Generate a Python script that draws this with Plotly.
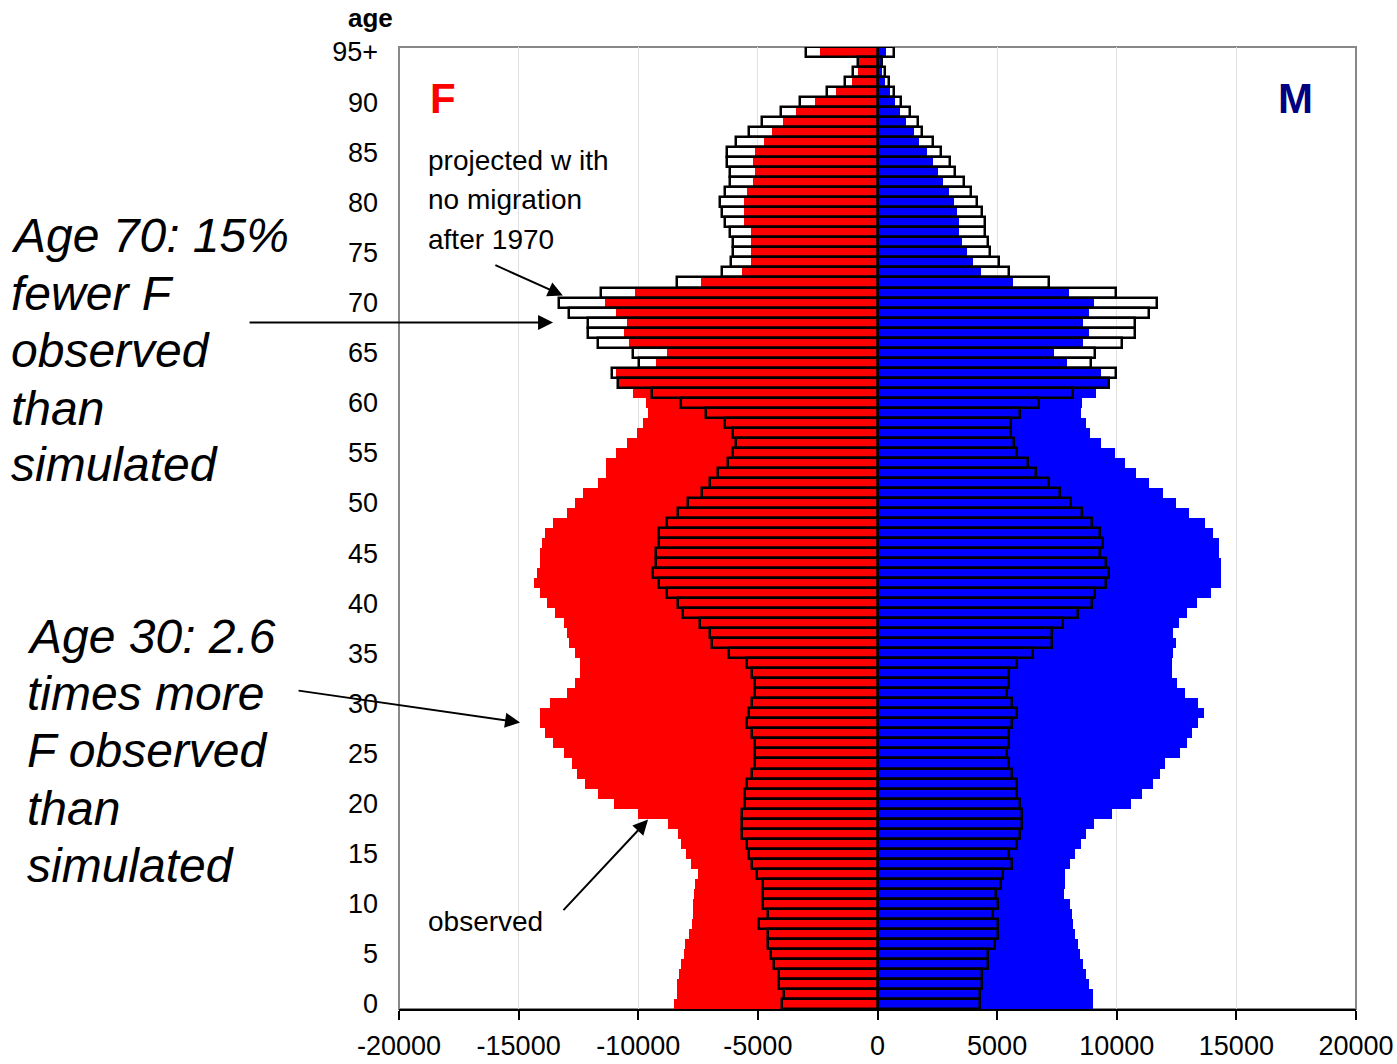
import plotly.graph_objects as go

ages = list(range(96))
age_ticks = list(range(0, 96, 5))
age_labels = [str(a) for a in range(0, 95, 5)] + ["95+"]

x_ticks = list(range(-20000, 20001, 5000))
x_labels = [str(v) for v in x_ticks]  # plain hyphen minus as in the original

# observed population (ages 0..95+)
obs_f = [8520, 8400, 8370, 8310, 8220, 8100, 8030, 7860, 7760, 7730,
         7730, 7650, 7610, 7520, 7800, 7990, 8200, 8330, 8740, 10000,
         11020, 11670, 12220, 12540, 12750, 13100, 13550, 13890, 14120, 14120,
         13670, 12990, 12650, 12430, 12430, 12650, 12880, 12990, 13100, 13480,
         13820, 14120, 14340, 14230, 14120, 14120, 14010, 13890, 13550, 12990,
         12650, 12310, 11670, 11340, 11360, 10920, 10480, 10070, 9790, 9590,
         9690, 10240, 10900, 10920, 9240, 8780, 10370, 10580, 10460, 10920,
         11380, 10130, 7360, 5650, 5300, 5300, 5300, 5300, 5560, 5560,
         5560, 5440, 5200, 5100, 5200, 5100, 4760, 4430, 3970, 3420,
         2600, 1750, 1060, 820, 800, 2400]

obs_m = [9000, 9000, 8820, 8700, 8570, 8480, 8400, 8250, 8160, 8140,
         8030, 7800, 7840, 7840, 8030, 8250, 8500, 8700, 9040, 9810,
         10580, 11040, 11510, 11810, 12030, 12630, 12950, 13160, 13390, 13630,
         13390, 12840, 12500, 12300, 12300, 12370, 12480, 12340, 12600, 12920,
         13360, 13930, 14350, 14350, 14350, 14270, 14270, 14030, 13680, 13040,
         12490, 11930, 11350, 10800, 10360, 9910, 9360, 8900, 8700, 8510,
         8560, 9140, 9620, 9360, 7910, 7360, 8580, 8830, 8580, 8830,
         9040, 8010, 5680, 4330, 4000, 3750, 3540, 3400, 3400, 3320,
         3180, 2980, 2740, 2530, 2330, 2050, 1750, 1510, 1200, 960,
         720, 515, 310, 205, 150, 370]

# projected with no migration after 1970
proj_f = [4000, 3890, 4120, 4120, 4340, 4460, 4570, 4570, 4940, 4570,
          4790, 4790, 4790, 5020, 5230, 5360, 5470, 5660, 5660, 5660,
          5550, 5550, 5470, 5230, 5130, 5130, 5130, 5230, 5470, 5360,
          5230, 5130, 5130, 5230, 5470, 6220, 6900, 7010, 7440, 8140,
          8350, 8800, 9140, 9380, 9270, 9270, 9140, 9140, 8800, 8330,
          7910, 7350, 7010, 6670, 6240, 6040, 5920, 6040, 6390, 7160,
          8220, 9420, 10850, 11090, 9960, 10200, 11680, 12120, 12090, 12910,
          13320, 11540, 8400, 6510, 6130, 6040, 6040, 6160, 6390, 6510,
          6590, 6390, 6160, 6160, 6270, 6270, 5920, 5380, 4830, 4040,
          3250, 2120, 1340, 1030, 820, 3000]

proj_m = [4270, 4270, 4380, 4380, 4610, 4610, 4930, 5020, 5020, 4830,
          5020, 4960, 5150, 5260, 5620, 5510, 5830, 5940, 6050, 6050,
          5940, 5830, 5830, 5620, 5510, 5400, 5510, 5510, 5620, 5830,
          5620, 5400, 5510, 5510, 5830, 6520, 7310, 7310, 7750, 8400,
          8970, 9080, 9530, 9660, 9530, 9310, 9440, 9310, 8970, 8540,
          8080, 7630, 7180, 6620, 6290, 5820, 5720, 5580, 5600, 5960,
          6750, 8180, 9660, 9960, 8940, 9070, 10200, 10750, 10750, 11330,
          11680, 9980, 7160, 5480, 5070, 4710, 4600, 4490, 4490, 4350,
          4140, 3900, 3600, 3250, 3030, 2670, 2330, 1880, 1680, 1340,
          990, 690, 460, 325, 200, 670]

FONT = "Liberation Sans, Arial, sans-serif"
W, H = 1397, 1064
PL, PR, PT, PB = 399, 1356, 47, 1009   # plot area in page pixels
L, R, T, B = PL, W - PR, PT, H - PB


def px(x):
    return (x - PL) / (PR - PL)


def py(y):
    return (PB - y) / (PB - PT)


fig = go.Figure()
fig.add_trace(go.Bar(y=ages, x=[-v for v in obs_f], orientation="h", width=1,
                     marker=dict(color="#ff0000", line=dict(width=0)), name="F observed"))
fig.add_trace(go.Bar(y=ages, x=obs_m, orientation="h", width=1,
                     marker=dict(color="#0000ff", line=dict(width=0)), name="M observed"))
fig.add_trace(go.Bar(y=ages, x=[-v for v in proj_f], orientation="h", width=1,
                     marker=dict(color="rgba(0,0,0,0)", line=dict(color="black", width=2.5)),
                     name="F projected"))
fig.add_trace(go.Bar(y=ages, x=proj_m, orientation="h", width=1,
                     marker=dict(color="rgba(0,0,0,0)", line=dict(color="black", width=2.5)),
                     name="M projected"))

annotations = []


def text(s, x, y, size, color="black", xanchor="left"):
    annotations.append(dict(text=s, x=px(x), y=py(y), xref="paper", yref="paper",
                            xanchor=xanchor, yanchor="middle", showarrow=False,
                            font=dict(family=FONT, size=size, color=color)))


text("<b>age</b>", 370, 18, 26, xanchor="center")
text("<b>F</b>", 443, 98, 42, color="#ff0000", xanchor="center")
text("<b>M</b>", 1295, 98, 42, color="#000080", xanchor="center")
for s, yy in [("projected w ith", 160), ("no migration", 200), ("after 1970", 239)]:
    text(s, 426, yy, 28)
text("observed", 426, 921, 28)
for s, yy in [("Age 70: 15%", 236), ("fewer F", 293), ("observed", 350),
              ("than", 408), ("simulated", 465)]:
    text("<i>" + s + "</i>", 9, yy, 48)
for s, yy in [("Age 30: 2.6", 636), ("times more", 693), ("F observed", 750),
              ("than", 808), ("simulated", 865)]:
    text("<i>" + s + "</i>", 25, yy, 48)


def arrow(x, y, ax, ay):
    annotations.append(dict(text="", x=x, y=y, xref="x", yref="y", ax=ax, ay=ay,
                            axref="pixel", ayref="pixel", showarrow=True,
                            arrowhead=2, arrowsize=1.5, arrowwidth=2,
                            arrowcolor="black", standoff=0, startstandoff=0))


arrow(-13560, 68.0, -305, 0)
arrow(-14940, 28.1, -223, -32)
arrow(-13150, 70.7, -69, -31)
arrow(-9590, 18.4, -86, 92)

fig.update_layout(
    width=W, height=H,
    margin=dict(l=L, r=R, t=T, b=B, pad=0, autoexpand=False),
    plot_bgcolor="white", paper_bgcolor="white",
    barmode="overlay", bargap=0, showlegend=False,
    font=dict(family=FONT, color="black"),
    annotations=annotations,
    shapes=[dict(type="rect", xref="paper", yref="paper", x0=0, x1=1, y0=0, y1=1,
                 line=dict(color="#888888", width=2), layer="below")],
)
fig.update_xaxes(range=[-20000, 20000], tickvals=x_ticks, ticktext=x_labels,
                 ticks="outside", ticklen=9, tickwidth=2, tickcolor="black",
                 showline=True, linecolor="black", linewidth=2,
                 showgrid=True, gridcolor="#e2e2e2", gridwidth=1, zeroline=False,
                 tickfont=dict(family=FONT, size=27, color="black"),
                 ticklabelstandoff=3, automargin=False, fixedrange=True)
fig.update_yaxes(range=[-0.5, 95.5], tickvals=age_ticks, ticktext=age_labels,
                 ticks="", showline=False, showgrid=False, zeroline=False,
                 tickfont=dict(family=FONT, size=27, color="black"),
                 ticklabelstandoff=20, automargin=False, fixedrange=True)

fig.write_html("out.html",
               config={"displayModeBar": False},
               post_script="document.body.style.margin='0';"
                           "document.body.style.overflow='hidden';")
